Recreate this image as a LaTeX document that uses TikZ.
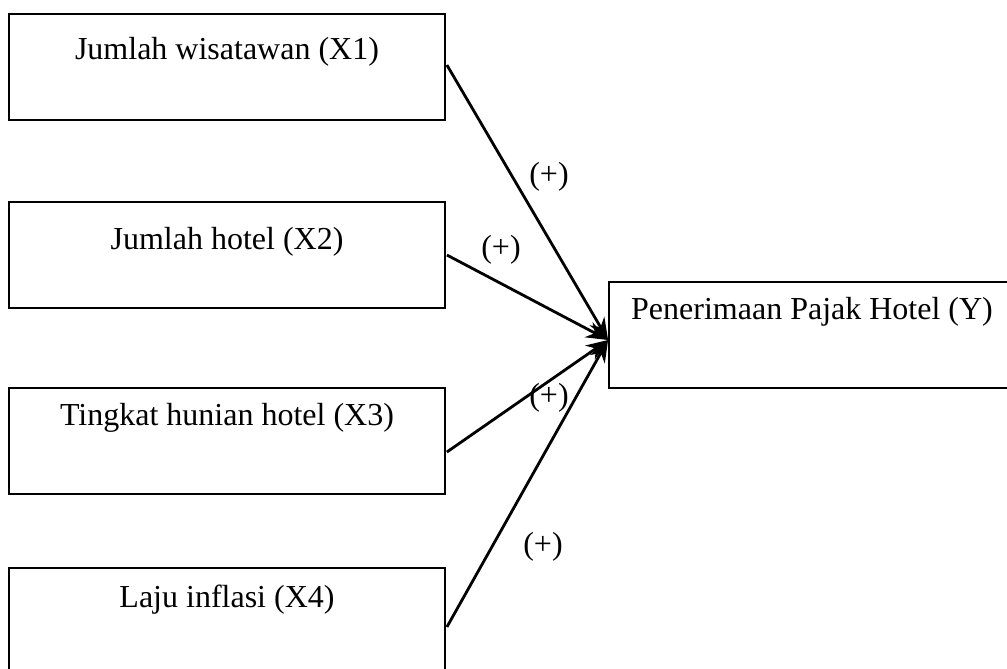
\documentclass[tikz,border=0pt]{standalone}
\usepackage{fontspec}
\setmainfont{Liberation Serif}
\usetikzlibrary{arrows.meta,calc}
\begin{document}
\begin{tikzpicture}[x=1pt,y=-1pt,
  box/.style={draw, line width=1.8pt, minimum width=436pt, minimum height=106pt, inner sep=0pt},
  lbl/.style={font=\fontsize{32}{38}\selectfont, inner sep=0pt},
  conn/.style={line width=2.8pt, -{Stealth[length=22pt,width=17pt]}}]
\useasboundingbox (0,0) rectangle (1007,669);
\begin{scope}
\clip (0,0) rectangle (1007,669);
\node[box] (x1) at (227,67) {};
\node[box] (x2) at (227,255) {};
\node[box] (x3) at (227,441) {};
\node[box] (x4) at (227,621) {};
\node[box, minimum width=420pt] (y) at (819,335) {};
\end{scope}
\node[lbl] (t1) at (227,52) {Jumlah wisatawan (X1)};
\node[lbl] (t2) at (227,242) {Jumlah hotel (X2)};
\node[lbl] (t3) at (227,418) {Tingkat hunian hotel (X3)};
\node[lbl] (t4) at (227,600) {Laju inflasi (X4)};
\node[lbl] (ty) at (812,312) {Penerimaan Pajak Hotel (Y)};
\coordinate (yin) at ($(y.west)+(0,5)$);
\draw[conn] ($(x1.east)+(1,-2)$) -- (yin);
\draw[conn] ($(x2.east)+(1,0)$) -- (yin);
\draw[conn] ($(x3.east)+(1,11)$) -- (yin);
\draw[conn] ($(x4.east)+(1,6)$) -- (yin);
\node[lbl] (p1) at (549,177) {(+)};
\node[lbl] (p2) at (501,250) {(+)};
\node[lbl] (p3) at (549,398) {(+)};
\node[lbl] (p4) at (543,547) {(+)};
\end{tikzpicture}
\end{document}
